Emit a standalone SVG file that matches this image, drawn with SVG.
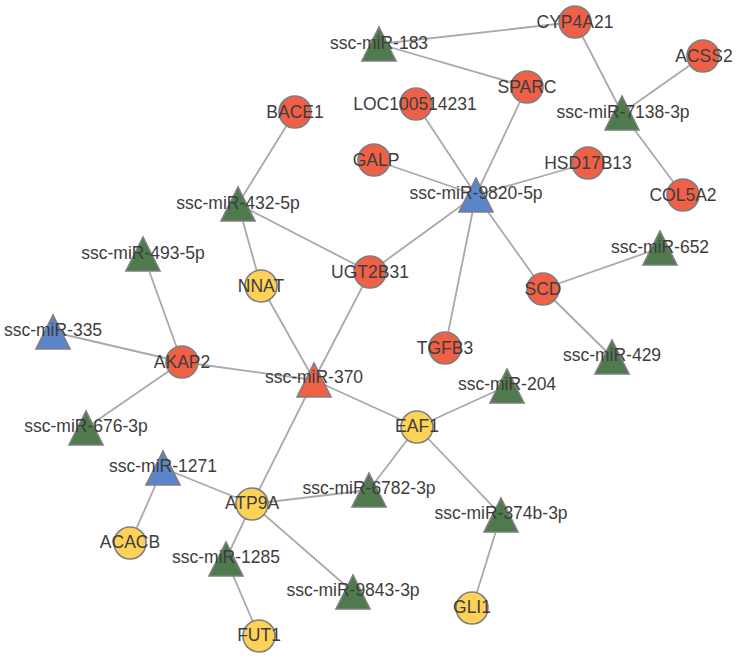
<svg xmlns="http://www.w3.org/2000/svg" width="738" height="659" viewBox="0 0 738 659">
<style>
.e{stroke:#a9a9a9;stroke-width:1.8;fill:none}
.n{stroke:#7f7f7f;stroke-width:1.6}
.r{fill:#ef6047}
.y{fill:#fed257}
.g{fill:#4e7a4e}
.b{fill:#5a86c9}
text{font-family:"Liberation Sans",Arial,sans-serif;font-size:17.5px;fill:#3d3d3d;text-anchor:middle;dominant-baseline:central}
</style>
<defs>
<polygon id="tri" points="0,-17 -17,17 17,17"/>
</defs>
<rect width="738" height="659" fill="#fff"/>
<g id="edges">
<line class="e" x1="379" y1="44" x2="575" y2="22"/>
<line class="e" x1="379" y1="44" x2="527" y2="87"/>
<line class="e" x1="575" y1="22" x2="622" y2="113"/>
<line class="e" x1="703" y1="56" x2="622" y2="113"/>
<line class="e" x1="622" y1="113" x2="683" y2="195"/>
<line class="e" x1="527" y1="87" x2="476" y2="195"/>
<line class="e" x1="416" y1="104" x2="476" y2="195"/>
<line class="e" x1="374" y1="160" x2="476" y2="195"/>
<line class="e" x1="588" y1="163" x2="476" y2="195"/>
<line class="e" x1="476" y1="195" x2="370" y2="272"/>
<line class="e" x1="476" y1="195" x2="445" y2="348"/>
<line class="e" x1="476" y1="195" x2="543" y2="289"/>
<line class="e" x1="543" y1="289" x2="660" y2="248"/>
<line class="e" x1="543" y1="289" x2="612" y2="357"/>
<line class="e" x1="295" y1="112" x2="238" y2="204"/>
<line class="e" x1="238" y1="204" x2="370" y2="272"/>
<line class="e" x1="238" y1="204" x2="261" y2="286"/>
<line class="e" x1="261" y1="286" x2="314" y2="380"/>
<line class="e" x1="370" y1="272" x2="314" y2="380"/>
<line class="e" x1="143" y1="254" x2="182" y2="362"/>
<line class="e" x1="53" y1="332" x2="182" y2="362"/>
<line class="e" x1="182" y1="362" x2="314" y2="380"/>
<line class="e" x1="182" y1="362" x2="86" y2="428"/>
<line class="e" x1="314" y1="380" x2="417" y2="427"/>
<line class="e" x1="314" y1="380" x2="252" y2="504"/>
<line class="e" x1="417" y1="427" x2="507" y2="386"/>
<line class="e" x1="417" y1="427" x2="369" y2="490"/>
<line class="e" x1="417" y1="427" x2="501" y2="515"/>
<line class="e" x1="501" y1="515" x2="472" y2="608"/>
<line class="e" x1="163" y1="468" x2="252" y2="504"/>
<line class="e" x1="163" y1="468" x2="130" y2="543"/>
<line class="e" x1="252" y1="504" x2="369" y2="490"/>
<line class="e" x1="252" y1="504" x2="226" y2="559"/>
<line class="e" x1="252" y1="504" x2="353" y2="592"/>
<line class="e" x1="226" y1="559" x2="259" y2="636"/>
</g>
<g id="CYP4A21"><circle class="n r" cx="575" cy="22" r="16"/><text x="575" y="22">CYP4A21</text></g>
<g id="ACSS2"><circle class="n r" cx="703" cy="56" r="16"/><text x="704" y="56">ACSS2</text></g>
<g id="SPARC"><circle class="n r" cx="527" cy="87" r="16"/><text x="527" y="87">SPARC</text></g>
<g id="LOC100514231"><circle class="n r" cx="416" cy="104" r="16"/><text x="415" y="104">LOC100514231</text></g>
<g id="GALP"><circle class="n r" cx="374" cy="160" r="16"/><text x="376" y="160">GALP</text></g>
<g id="HSD17B13"><circle class="n r" cx="588" cy="163" r="16"/><text x="588" y="163">HSD17B13</text></g>
<g id="COL5A2"><circle class="n r" cx="683" cy="195" r="16"/><text x="683" y="195">COL5A2</text></g>
<g id="BACE1"><circle class="n r" cx="295" cy="112" r="16"/><text x="295" y="112">BACE1</text></g>
<g id="UGT2B31"><circle class="n r" cx="370" cy="272" r="16"/><text x="370" y="272">UGT2B31</text></g>
<g id="NNAT"><circle class="n y" cx="261" cy="286" r="16"/><text x="261" y="286">NNAT</text></g>
<g id="AKAP2"><circle class="n r" cx="182" cy="362" r="16"/><text x="182" y="362">AKAP2</text></g>
<g id="SCD"><circle class="n r" cx="543" cy="289" r="16"/><text x="543" y="289">SCD</text></g>
<g id="TGFB3"><circle class="n r" cx="445" cy="348" r="16"/><text x="445" y="348">TGFB3</text></g>
<g id="EAF1"><circle class="n y" cx="417" cy="427" r="16"/><text x="417" y="426">EAF1</text></g>
<g id="ATP9A"><circle class="n y" cx="252" cy="504" r="16"/><text x="252" y="503">ATP9A</text></g>
<g id="ACACB"><circle class="n y" cx="130" cy="543" r="16"/><text x="130" y="542">ACACB</text></g>
<g id="FUT1"><circle class="n y" cx="259" cy="636" r="16"/><text x="259" y="635">FUT1</text></g>
<g id="GLI1"><circle class="n y" cx="472" cy="608" r="16"/><text x="472" y="607">GLI1</text></g>
<g id="ssc-miR-183"><use href="#tri" class="n g" x="379" y="44"/><text x="379" y="43">ssc-miR-183</text></g>
<g id="ssc-miR-7138-3p"><use href="#tri" class="n g" x="622" y="113"/><text x="623" y="112">ssc-miR-7138-3p</text></g>
<g id="ssc-miR-9820-5p"><use href="#tri" class="n b" x="476" y="195"/><text x="476" y="193">ssc-miR-9820-5p</text></g>
<g id="ssc-miR-432-5p"><use href="#tri" class="n g" x="238" y="204"/><text x="238" y="203">ssc-miR-432-5p</text></g>
<g id="ssc-miR-493-5p"><use href="#tri" class="n g" x="143" y="254"/><text x="143" y="253">ssc-miR-493-5p</text></g>
<g id="ssc-miR-335"><use href="#tri" class="n b" x="53" y="332"/><text x="53" y="330">ssc-miR-335</text></g>
<g id="ssc-miR-370"><use href="#tri" class="n r" x="314" y="380"/><text x="314" y="377">ssc-miR-370</text></g>
<g id="ssc-miR-676-3p"><use href="#tri" class="n g" x="86" y="428"/><text x="86" y="426">ssc-miR-676-3p</text></g>
<g id="ssc-miR-1271"><use href="#tri" class="n b" x="163" y="468"/><text x="163" y="466">ssc-miR-1271</text></g>
<g id="ssc-miR-6782-3p"><use href="#tri" class="n g" x="369" y="490"/><text x="369" y="488">ssc-miR-6782-3p</text></g>
<g id="ssc-miR-1285"><use href="#tri" class="n g" x="226" y="559"/><text x="226" y="557">ssc-miR-1285</text></g>
<g id="ssc-miR-9843-3p"><use href="#tri" class="n g" x="353" y="592"/><text x="353" y="590">ssc-miR-9843-3p</text></g>
<g id="ssc-miR-652"><use href="#tri" class="n g" x="660" y="248"/><text x="660" y="247">ssc-miR-652</text></g>
<g id="ssc-miR-429"><use href="#tri" class="n g" x="612" y="357"/><text x="612" y="355">ssc-miR-429</text></g>
<g id="ssc-miR-204"><use href="#tri" class="n g" x="507" y="386"/><text x="507" y="384">ssc-miR-204</text></g>
<g id="ssc-miR-374b-3p"><use href="#tri" class="n g" x="501" y="515"/><text x="501" y="513">ssc-miR-374b-3p</text></g>
</svg>
